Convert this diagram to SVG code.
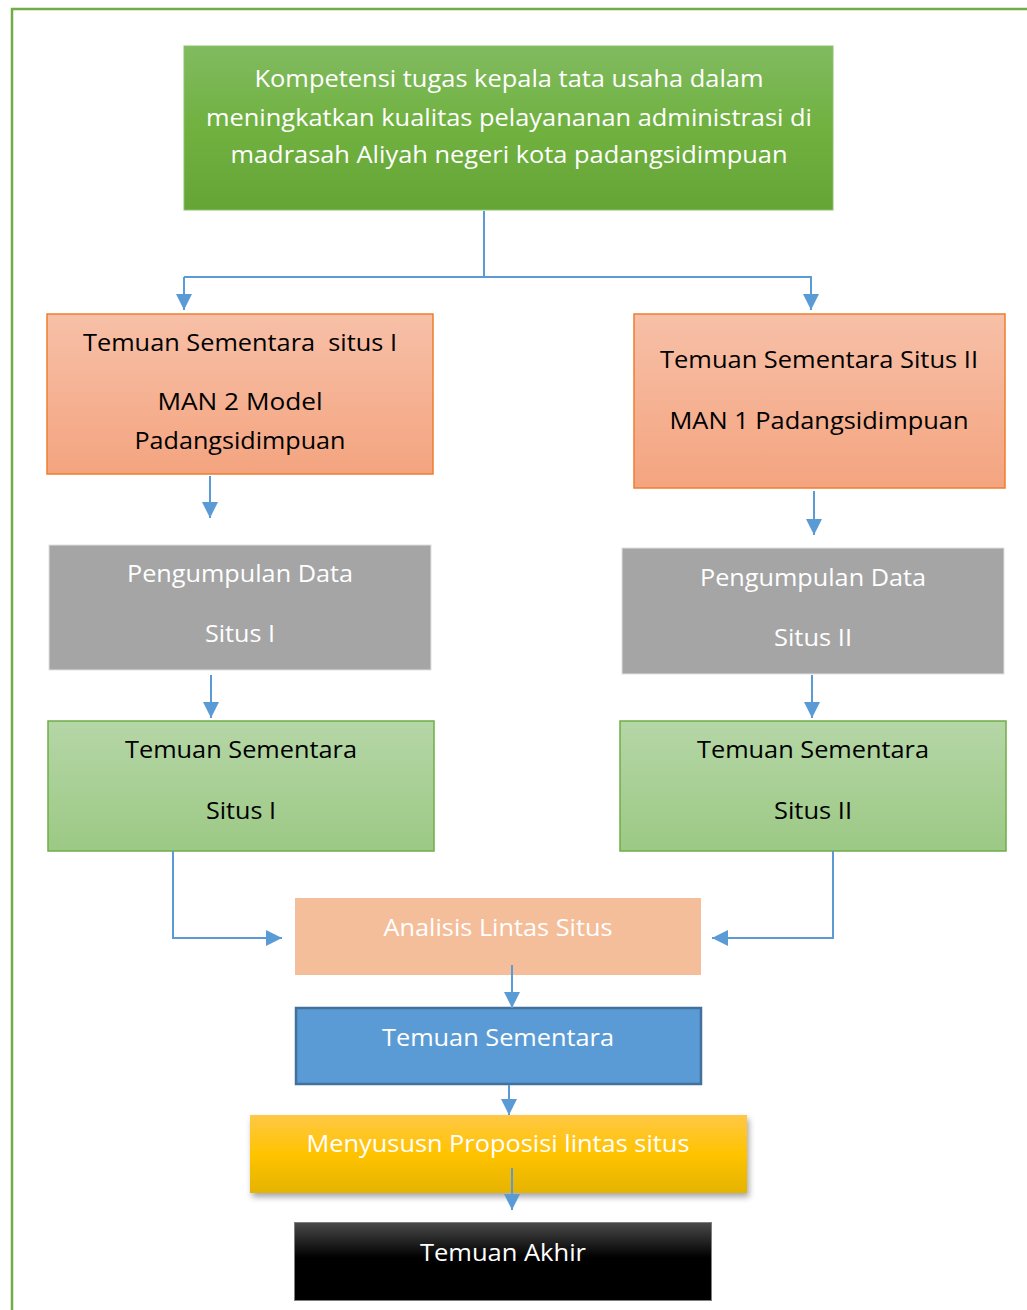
<svg xmlns="http://www.w3.org/2000/svg" width="1027" height="1310" viewBox="0 0 1027 1310">
<style>
text{font-family:"Open Sans","Liberation Sans",sans-serif;font-size:24px;text-anchor:middle}
.w{fill:#ffffff}
.b{fill:#000000}
.conn path{fill:none;stroke:#5B9BD5;stroke-width:2}
</style>
<defs>
<linearGradient id="gTop" x1="0" y1="0" x2="0" y2="1"><stop offset="0" stop-color="#81BB60"/><stop offset="0.5" stop-color="#70B140"/><stop offset="1" stop-color="#64A536"/></linearGradient>
<linearGradient id="gOr" x1="0" y1="0" x2="0" y2="1"><stop offset="0" stop-color="#F7C0A8"/><stop offset="1" stop-color="#F4A47F"/></linearGradient>
<linearGradient id="gGr" x1="0" y1="0" x2="0" y2="1"><stop offset="0" stop-color="#B5D6A6"/><stop offset="1" stop-color="#9CC985"/></linearGradient>
<linearGradient id="gYe" x1="0" y1="0" x2="0" y2="1"><stop offset="0" stop-color="#FFC846"/><stop offset="0.5" stop-color="#FFC300"/><stop offset="1" stop-color="#E5B300"/></linearGradient>
<linearGradient id="gBk" x1="0" y1="0" x2="0" y2="1"><stop offset="0" stop-color="#4A4A4A"/><stop offset="0.45" stop-color="#000000"/><stop offset="1" stop-color="#000000"/></linearGradient>
<marker id="ah" viewBox="0 0 16 16" refX="16" refY="8" markerWidth="16" markerHeight="16" markerUnits="userSpaceOnUse" orient="auto"><path d="M0,0 L16,8 L0,16 z" fill="#5B9BD5"/></marker>
<filter id="sh" x="-5%" y="-20%" width="112%" height="150%"><feDropShadow dx="2" dy="4" stdDeviation="3" flood-color="#000" flood-opacity="0.35"/></filter>
</defs>
<rect width="1027" height="1310" fill="#ffffff"/>
<path d="M12,1310 V9 H1027" fill="none" stroke="#70AD47" stroke-width="2.5"/>

<g id="n-top">
<rect x="184" y="46" width="649" height="164" fill="url(#gTop)" stroke="#8DC06C" stroke-width="1"/>
<text class="w" x="509" y="87" textLength="509" lengthAdjust="spacingAndGlyphs">Kompetensi tugas kepala tata usaha dalam</text>
<text class="w" x="509" y="126" textLength="606" lengthAdjust="spacingAndGlyphs">meningkatkan kualitas pelayananan administrasi di</text>
<text class="w" x="509" y="163" textLength="557" lengthAdjust="spacingAndGlyphs">madrasah Aliyah negeri kota padangsidimpuan</text>
</g>

<g id="n-or1">
<rect x="47" y="314" width="386" height="160" fill="url(#gOr)" stroke="#ED7D31" stroke-width="1.5"/>
<text class="b" x="240" y="351" textLength="314" lengthAdjust="spacingAndGlyphs" xml:space="preserve">Temuan Sementara  situs I</text>
<text class="b" x="240" y="410" textLength="165" lengthAdjust="spacingAndGlyphs">MAN 2 Model</text>
<text class="b" x="240" y="449" textLength="211" lengthAdjust="spacingAndGlyphs">Padangsidimpuan</text>
</g>

<g id="n-or2">
<rect x="634" y="314" width="371" height="174" fill="url(#gOr)" stroke="#ED7D31" stroke-width="1.5"/>
<text class="b" x="819" y="368" textLength="318" lengthAdjust="spacingAndGlyphs">Temuan Sementara Situs II</text>
<text class="b" x="819" y="429" textLength="299" lengthAdjust="spacingAndGlyphs">MAN 1 Padangsidimpuan</text>
</g>

<g id="n-grey1">
<rect x="49" y="545" width="382" height="125" fill="#A5A5A5" stroke="#E0E0E0" stroke-width="1"/>
<text class="w" x="240" y="582" textLength="226" lengthAdjust="spacingAndGlyphs">Pengumpulan Data</text>
<text class="w" x="240" y="642" textLength="70" lengthAdjust="spacingAndGlyphs">Situs I</text>
</g>

<g id="n-grey2">
<rect x="622" y="548" width="382" height="126" fill="#A5A5A5" stroke="#E0E0E0" stroke-width="1"/>
<text class="w" x="813" y="586" textLength="226" lengthAdjust="spacingAndGlyphs">Pengumpulan Data</text>
<text class="w" x="813" y="646" textLength="78" lengthAdjust="spacingAndGlyphs">Situs II</text>
</g>

<g id="n-green1">
<rect x="48" y="721" width="386" height="130" fill="url(#gGr)" stroke="#70AD47" stroke-width="1.5"/>
<text class="b" x="241" y="758" textLength="232" lengthAdjust="spacingAndGlyphs">Temuan Sementara</text>
<text class="b" x="241" y="819" textLength="70" lengthAdjust="spacingAndGlyphs">Situs I</text>
</g>

<g id="n-green2">
<rect x="620" y="721" width="386" height="130" fill="url(#gGr)" stroke="#70AD47" stroke-width="1.5"/>
<text class="b" x="813" y="758" textLength="232" lengthAdjust="spacingAndGlyphs">Temuan Sementara</text>
<text class="b" x="813" y="819" textLength="78" lengthAdjust="spacingAndGlyphs">Situs II</text>
</g>

<g id="n-analisis">
<rect x="295" y="898" width="406" height="77" fill="#F5BE9A"/>
<text class="w" x="498" y="936" textLength="229" lengthAdjust="spacingAndGlyphs">Analisis Lintas Situs</text>
</g>

<g id="n-blue">
<rect x="296" y="1008" width="405" height="76" fill="#5B9BD5" stroke="#41719C" stroke-width="2.5"/>
<text class="w" x="498" y="1046" textLength="232" lengthAdjust="spacingAndGlyphs">Temuan Sementara</text>
</g>

<g id="n-yellow">
<rect x="250" y="1115" width="497" height="78" fill="url(#gYe)" filter="url(#sh)"/>
<text class="w" x="498" y="1152" textLength="383" lengthAdjust="spacingAndGlyphs">Menyususn Proposisi lintas situs</text>
</g>

<g id="n-black">
<rect x="294.5" y="1222.5" width="417" height="78" fill="url(#gBk)" stroke="#7F7F7F" stroke-width="1"/>
<text class="w" x="503" y="1261" textLength="166" lengthAdjust="spacingAndGlyphs">Temuan Akhir</text>
</g>

<g id="connectors" class="conn">
<path d="M484,211 V276"/>
<path d="M184,277 H812"/>
<path d="M184,277 V310" marker-end="url(#ah)"/>
<path d="M811,276 V310" marker-end="url(#ah)"/>
<path d="M210,476 V518" marker-end="url(#ah)"/>
<path d="M814,491 V535" marker-end="url(#ah)"/>
<path d="M211,675 V718" marker-end="url(#ah)"/>
<path d="M812,675 V718" marker-end="url(#ah)"/>
<path d="M173,851 V938 H282" marker-end="url(#ah)"/>
<path d="M833,851 V938 H712" marker-end="url(#ah)"/>
<path d="M512,965 V1008" marker-end="url(#ah)"/>
<path d="M509,1085 V1115" marker-end="url(#ah)"/>
<path d="M512,1168 V1210" marker-end="url(#ah)"/>
</g>
</svg>
